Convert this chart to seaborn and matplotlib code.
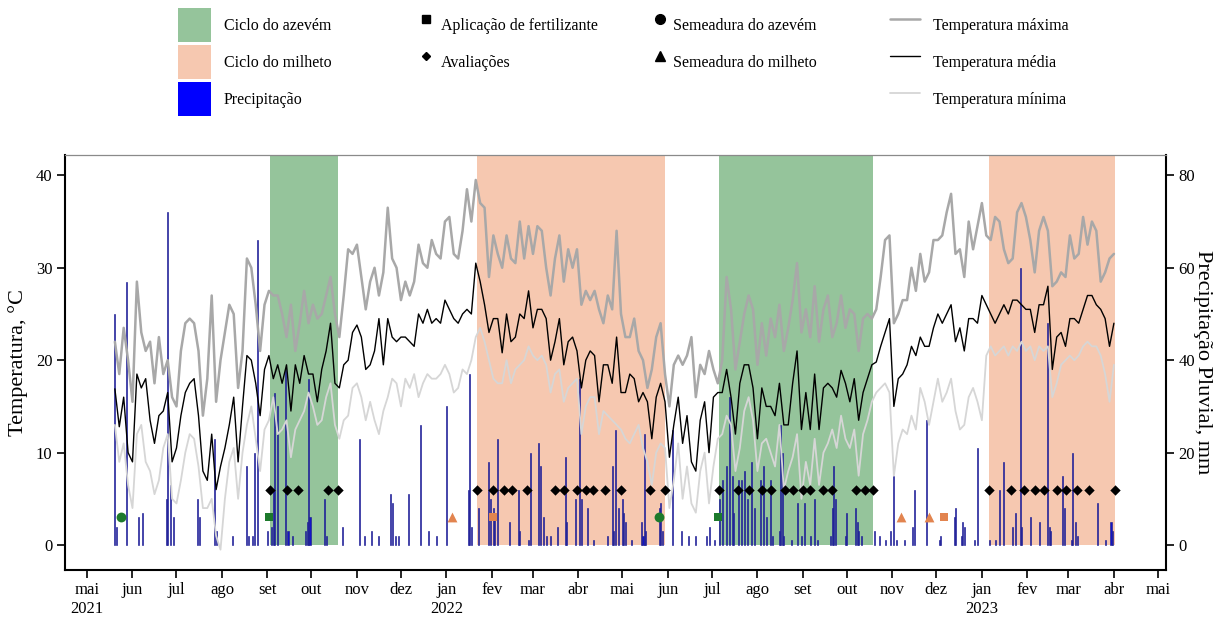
import pandas as pd
import matplotlib
matplotlib.use("Agg")
import matplotlib.pyplot as plt
from matplotlib.patches import Patch
from matplotlib.lines import Line2D
import seaborn as sns

sns.set_theme(style="ticks")
plt.rcParams["font.family"] = ["Liberation Serif", "DejaVu Serif"]
plt.rcParams["text.color"] = "black"
plt.rcParams["axes.labelcolor"] = "black"
plt.rcParams["xtick.color"] = "black"
plt.rcParams["ytick.color"] = "black"

# ---- temperature series (one reading every 3 days) ----
datas = pd.date_range("2021-05-20", "2023-04-01", freq="3D")

t_max = [
    22.0, 18.5, 23.5, 20.0, 15.5, 28.5, 23.0, 21.0, 22.0, 17.5, 22.5, 18.5, 20.0, 16.0, 15.0, 21.0, 24.0, 24.5, 24.0, 21.0, 14.0,
    18.0, 27.0, 15.5, 20.0, 23.0, 26.0, 25.0, 17.0, 21.0, 31.0, 30.0, 26.0, 21.0, 26.0, 27.5, 27.0, 27.0, 25.0, 22.5, 26.0, 21.0, 24.0, 27.5, 24.0, 26.0, 24.5, 25.0, 27.0, 29.0, 25.0, 22.5, 27.0,
    32.0, 31.5, 32.5, 29.0, 25.5, 28.5, 30.0, 27.0, 29.5, 36.5, 31.0, 30.0, 26.5, 28.5, 27.0, 28.5, 32.5, 30.5, 30.0, 33.0, 31.5, 31.0, 35.0, 35.5, 31.5, 31.0, 34.0, 38.5, 35.0, 39.5, 37.0, 36.5,
    29.0, 33.5, 31.5, 30.0, 33.5, 31.0, 30.5, 35.0, 31.0, 34.5, 31.5, 34.5, 34.0, 30.0, 27.0, 31.0, 33.5, 28.5, 32.0, 30.0, 32.0, 26.0, 27.5, 26.5, 27.5, 25.5, 24.0, 27.0, 25.5, 34.0, 25.0,
    22.5, 22.5, 24.5, 21.0, 20.0, 17.0, 19.0, 22.5, 24.0, 18.5, 15.0, 19.5, 20.5, 19.5, 20.5, 22.5, 16.0, 19.5, 18.5, 21.0, 19.0, 17.5, 20.0, 29.0, 25.5, 19.0, 22.0, 25.0, 27.0, 25.5, 19.5, 24.0,
    20.5, 24.5, 22.5, 26.0, 21.0, 23.5, 26.5, 30.5, 23.0, 25.5, 22.5, 28.0, 22.0, 25.5, 27.0, 22.5, 24.0, 27.0, 23.5, 25.5, 25.0, 21.0, 24.5, 25.0, 24.5, 25.5, 29.0, 33.0, 33.5, 24.0, 25.0, 26.5,
    26.5, 30.0, 27.5, 31.5, 28.5, 29.5, 33.0, 33.0, 33.5, 36.0, 38.0, 31.5, 32.0, 29.0, 35.0, 32.0, 34.5, 37.0, 33.5, 33.0, 35.5, 35.0, 32.0, 30.5, 31.0, 36.0, 37.0, 35.5, 33.0, 29.5, 34.0, 35.5,
    34.0, 28.0, 28.5, 29.5, 29.0, 33.5, 31.0, 31.5, 35.5, 32.5, 35.0, 34.0, 28.5, 29.5, 31.0, 31.5,
]

t_med = [
    16.9, 12.8, 16.0, 10.0, 9.0, 18.5, 17.0, 18.0, 13.5, 11.0, 14.0, 14.5, 16.5, 9.0, 10.5, 14.0, 16.5, 17.5, 18.0, 14.0, 8.0,
    7.0, 12.0, 6.0, 8.5, 10.5, 13.0, 16.0, 9.0, 15.0, 20.5, 20.0, 17.5, 14.0, 19.0, 20.5, 18.0, 19.5, 17.5, 19.5, 14.5, 19.5, 17.5, 20.5, 18.5, 18.5, 15.5, 19.0, 21.0, 24.0, 17.5, 17.0, 19.5,
    20.0, 23.0, 23.8, 22.5, 19.0, 19.5, 21.0, 24.5, 19.5, 24.5, 22.5, 22.0, 22.5, 22.5, 22.0, 21.5, 25.0, 24.0, 25.5, 24.0, 24.5, 24.0, 26.5, 25.5, 24.5, 24.0, 25.0, 25.5, 25.0, 30.5, 28.5, 26.0,
    23.0, 24.5, 24.5, 20.8, 25.0, 22.0, 22.5, 25.0, 24.5, 27.5, 23.5, 25.5, 25.5, 24.5, 20.0, 22.0, 24.5, 19.5, 22.0, 22.5, 21.0, 17.0, 20.0, 21.0, 20.5, 15.5, 19.5, 19.5, 17.5, 22.5, 16.5,
    16.5, 18.5, 18.0, 15.5, 16.5, 15.5, 11.5, 16.0, 17.5, 15.5, 9.5, 13.0, 16.0, 11.0, 14.0, 9.0, 8.0, 13.5, 15.5, 10.0, 16.0, 16.5, 16.5, 19.0, 16.0, 12.0, 17.5, 19.5, 19.5, 17.0, 11.5, 17.0,
    15.0, 15.0, 14.0, 17.5, 13.0, 13.0, 17.5, 21.0, 12.5, 16.5, 12.5, 18.5, 12.5, 17.0, 17.5, 17.0, 16.0, 18.9, 17.5, 15.5, 18.0, 13.5, 16.5, 18.0, 19.5, 19.8, 21.5, 23.0, 24.5, 15.0, 18.0, 18.5,
    19.5, 21.5, 20.5, 22.5, 21.5, 21.5, 23.5, 25.0, 24.0, 25.0, 26.0, 22.0, 23.5, 21.0, 24.5, 24.5, 24.0, 27.0, 26.0, 25.0, 24.0, 25.0, 26.0, 25.0, 26.5, 26.5, 26.0, 25.5, 25.5, 23.0, 26.0, 26.0,
    28.0, 19.0, 22.5, 23.0, 21.5, 24.5, 24.5, 24.0, 25.5, 27.0, 27.0, 26.0, 25.5, 24.5, 21.5, 24.0,
]

t_min = [
    13.0, 9.0, 11.0, 6.5, 4.0, 12.0, 13.0, 9.0, 8.0, 5.5, 7.0, 10.5, 12.0, 5.0, 4.5, 7.0, 10.0, 12.0, 11.5, 8.5, 4.0,
    4.0, 5.0, 1.0, -0.5, 5.0, 9.0, 10.5, 5.0, 10.0, 13.0, 15.0, 11.5, 8.0, 12.5, 13.5, 16.0, 12.0, 12.5, 13.5, 9.5, 12.5, 13.5, 14.5, 16.5, 15.0, 13.0, 13.5, 16.0, 17.5, 13.0, 11.5, 13.5,
    14.0, 17.0, 17.5, 16.0, 13.5, 15.5, 13.5, 12.0, 14.5, 16.0, 18.0, 17.5, 15.0, 18.0, 17.0, 18.5, 16.0, 17.5, 18.5, 18.0, 18.0, 18.5, 19.5, 18.5, 16.5, 17.0, 19.0, 18.5, 20.0, 22.5, 23.5, 22.0,
    20.0, 18.0, 17.5, 17.5, 20.0, 17.5, 19.0, 19.5, 20.0, 21.5, 20.5, 20.0, 20.5, 19.5, 16.5, 18.5, 19.0, 15.5, 17.0, 17.5, 18.0, 12.0, 15.0, 16.0, 16.0, 12.0, 14.5, 14.0, 13.5, 13.0, 12.5,
    11.5, 11.0, 12.0, 13.0, 10.5, 9.0, 6.5, 10.0, 11.0, 10.5, 4.0, 7.0, 11.0, 5.0, 8.5, 4.5, 3.5, 8.0, 10.0, 4.5, 8.5, 11.5, 12.0, 14.0, 13.0, 8.0, 10.5, 14.5, 16.0, 13.5, 8.0, 11.0,
    11.5, 10.0, 8.5, 13.0, 6.0, 8.0, 9.5, 12.0, 5.0, 9.0, 6.5, 11.5, 6.5, 10.0, 11.0, 12.5, 10.5, 14.0, 11.5, 10.5, 12.5, 7.5, 12.0, 13.5, 15.5, 16.5, 17.0, 17.5, 16.5, 7.5, 11.0, 12.5,
    12.0, 14.0, 12.5, 17.0, 15.5, 13.0, 15.5, 18.0, 15.5, 16.5, 18.0, 14.5, 12.5, 13.0, 16.0, 17.0, 15.5, 13.5, 20.5, 21.5, 20.5, 21.0, 21.5, 20.5, 21.5, 21.0, 22.0, 21.0, 21.5, 20.0, 21.5, 21.0,
    21.5, 16.0, 17.5, 19.5, 20.0, 20.5, 20.0, 20.5, 21.5, 22.0, 21.5, 21.5, 20.5, 18.5, 15.5, 19.5,
]

# ---- daily rainfall (mm), rainy days only ----
chuva_datas = [
    "2021-05-20", "2021-05-21", "2021-05-28", "2021-06-05", "2021-06-08", "2021-06-24", "2021-06-25", "2021-06-27",
    "2021-06-29", "2021-07-15", "2021-07-17", "2021-07-27", "2021-07-28", "2021-08-08", "2021-08-18", "2021-08-19",
    "2021-08-22", "2021-08-23", "2021-08-25", "2021-09-01", "2021-09-04", "2021-09-05", "2021-09-06", "2021-09-08",
    "2021-09-13", "2021-09-15", "2021-09-18", "2021-09-27", "2021-09-28", "2021-09-29", "2021-09-30", "2021-10-10",
    "2021-10-11", "2021-10-22", "2021-11-03", "2021-11-06", "2021-11-11", "2021-11-16", "2021-11-24", "2021-11-25",
    "2021-11-27", "2021-11-29", "2021-12-06", "2021-12-14", "2021-12-20", "2021-12-25", "2022-01-01", "2022-01-16",
    "2022-01-17", "2022-01-18", "2022-01-23", "2022-01-30", "2022-01-31", "2022-02-02", "2022-02-03", "2022-02-05",
    "2022-02-13", "2022-02-19", "2022-02-20", "2022-02-26", "2022-02-27", "2022-03-05", "2022-03-06", "2022-03-08",
    "2022-03-10", "2022-03-13", "2022-03-18", "2022-03-23", "2022-03-24", "2022-03-30", "2022-04-02", "2022-04-03",
    "2022-04-07", "2022-04-11", "2022-04-21", "2022-04-24", "2022-04-25", "2022-04-26", "2022-04-28", "2022-05-01",
    "2022-05-02", "2022-05-03", "2022-05-07", "2022-05-14", "2022-05-15", "2022-05-16", "2022-05-17", "2022-05-26",
    "2022-05-27", "2022-05-28", "2022-06-04", "2022-06-10", "2022-06-15", "2022-06-20", "2022-06-27", "2022-06-29",
    "2022-07-03", "2022-07-06", "2022-07-08", "2022-07-11", "2022-07-13", "2022-07-15", "2022-07-16", "2022-07-19",
    "2022-07-21", "2022-07-23", "2022-07-25", "2022-07-28", "2022-07-30", "2022-08-03", "2022-08-05", "2022-08-07",
    "2022-08-10", "2022-08-11", "2022-08-16", "2022-08-17", "2022-08-18", "2022-08-19", "2022-08-24", "2022-08-28",
    "2022-08-31", "2022-09-02", "2022-09-06", "2022-09-09", "2022-09-11", "2022-09-20", "2022-09-21", "2022-09-22",
    "2022-09-23", "2022-09-30", "2022-10-01", "2022-10-07", "2022-10-08", "2022-10-09", "2022-10-11", "2022-10-20",
    "2022-10-23", "2022-10-27", "2022-10-31", "2022-11-02", "2022-11-04", "2022-11-09", "2022-11-15", "2022-11-16",
    "2022-11-24", "2022-12-03", "2022-12-04", "2022-12-13", "2022-12-14", "2022-12-18", "2022-12-19", "2022-12-20",
    "2022-12-27", "2022-12-29", "2023-01-06", "2023-01-10", "2023-01-13", "2023-01-16", "2023-01-22", "2023-01-24",
    "2023-01-27", "2023-01-28", "2023-02-03", "2023-02-09", "2023-02-15", "2023-02-16", "2023-02-17", "2023-02-25",
    "2023-02-26", "2023-03-03", "2023-03-04", "2023-03-06", "2023-03-07", "2023-03-21", "2023-03-26", "2023-03-30",
    "2023-03-31",
]
chuva_mm = [
    50, 4, 57, 6, 7, 10, 72, 13,
    6, 10, 6, 23, 3, 2, 17, 2,
    2, 20, 66, 3, 4, 12, 33, 30,
    38, 3, 2, 3, 5, 36, 6, 10,
    2, 4, 23, 2, 3, 2, 11, 9,
    2, 2, 11, 26, 3, 2, 30, 12,
    37, 4, 8, 18, 10, 8, 7, 23,
    5, 12, 3, 1, 20, 22, 17, 6,
    2, 2, 4, 19, 5, 10, 36, 10,
    8, 1, 2, 17, 3, 25, 8, 10,
    7, 5, 1, 5, 2, 24, 3, 8,
    9, 3, 25, 3, 2, 2, 2, 4,
    1, 10, 14, 17, 32, 15, 7, 14,
    14, 16, 10, 18, 8, 14, 17, 6,
    14, 2, 3, 26, 20, 2, 1, 9,
    2, 9, 2, 10, 1, 2, 8, 17,
    10, 2, 7, 8, 5, 3, 2, 3,
    2, 1, 3, 15, 1, 1, 4, 12,
    27, 1, 2, 6, 8, 2, 5, 4,
    1, 21, 1, 1, 12, 18, 4, 7,
    60, 4, 6, 5, 48, 4, 3, 15,
    8, 1, 20, 5, 2, 9, 1, 5,
    3,
]

# ---- crop cycles ----
azevem_inicio = ["2021-09-03", "2022-07-06"]
azevem_fim = ["2021-10-19", "2022-10-19"]
milheto_inicio = ["2022-01-22", "2023-01-06"]
milheto_fim = ["2022-05-30", "2023-04-02"]

# ---- field events ----
avaliacoes = [
    "2021-09-03", "2021-09-14", "2021-09-22", "2021-10-12", "2021-10-19",
    "2022-01-22", "2022-02-02", "2022-02-09", "2022-02-15", "2022-02-25", "2022-03-16", "2022-03-22",
    "2022-03-31", "2022-04-06", "2022-04-11", "2022-04-19", "2022-04-30", "2022-05-20", "2022-05-30",
    "2022-07-06", "2022-07-19", "2022-07-26", "2022-08-04", "2022-08-10", "2022-08-20", "2022-08-25",
    "2022-09-01", "2022-09-06", "2022-09-15", "2022-09-21", "2022-10-07", "2022-10-13", "2022-10-19",
    "2023-01-06", "2023-01-21", "2023-01-30", "2023-02-06", "2023-02-12", "2023-02-21", "2023-02-27",
    "2023-03-07", "2023-03-15", "2023-04-02",
]
fert_azevem = ["2021-09-02", "2022-07-05"]
fert_milheto = ["2022-02-02", "2022-12-06"]
semeadura_azevem = ["2021-05-24", "2022-05-26"]
semeadura_milheto = ["2022-01-05", "2022-11-07", "2022-11-26"]

meses = pd.date_range("2021-05-01", "2023-05-01", freq="MS")
rotulos_meses = ["mai\n2021", "jun", "jul", "ago", "set", "out", "nov", "dez",
                 "jan\n2022", "fev", "mar", "abr", "mai", "jun", "jul", "ago", "set", "out", "nov", "dez",
                 "jan\n2023", "fev", "mar", "abr", "mai"]

# ---- styles ----
VERDE = "#95c49b"
SALMAO = "#f6c8b0"
AZUL = "#0000ff"
COR_BARRA = "#1414c8"
COR_MAX = "#a8a8a8"
COR_MED = "#000000"
COR_MIN = "#d6d6d6"
VERDE_PT = "#1d7a2c"
LARANJA_PT = "#e2844f"
Y_AVAL = 6.0
Y_EVENTO = 3.0
T_LIM = (-2.7, 42.2)

W, H = 1227, 619
fig = plt.figure(figsize=(W / 100, H / 100), dpi=100)
ax_p = fig.add_axes([65 / W, 1 - 570 / H, 1101 / W, 415 / H])
ax_t = ax_p.twinx()

ax_t.set_ylim(*T_LIM)
ax_p.set_ylim(2 * T_LIM[0], 2 * T_LIM[1])
x0, x1 = pd.Timestamp("2021-04-16"), pd.Timestamp("2023-05-06 12:00")

# crop-cycle shading (from 0 up to the top of the panel)
top = ax_p.get_ylim()[1]
for a, b in zip(azevem_inicio, azevem_fim):
    ax_p.fill_between([pd.Timestamp(a), pd.Timestamp(b)], 0, top, color=VERDE, lw=0, zorder=0)
for a, b in zip(milheto_inicio, milheto_fim):
    ax_p.fill_between([pd.Timestamp(a), pd.Timestamp(b)], 0, top, color=SALMAO, lw=0, zorder=0)

# rainfall bars
ax_p.bar(pd.to_datetime(chuva_datas), chuva_mm, width=0.7, color=COR_BARRA,
         edgecolor="#22228a", linewidth=0.45, zorder=2)

# temperature lines
n = len(datas)
df_t = pd.DataFrame({
    "data": list(datas) * 3,
    "temp": t_max + t_min + t_med,
    "serie": ["max"] * n + ["min"] * n + ["med"] * n,
})
sns.lineplot(data=df_t, x="data", y="temp", hue="serie", size="serie",
             hue_order=["max", "min", "med"], size_order=["max", "min", "med"],
             palette={"max": COR_MAX, "min": COR_MIN, "med": COR_MED},
             sizes={"max": 1.8, "min": 1.3, "med": 1.0},
             estimator=None, legend=False, ax=ax_t)

# event markers
sns.scatterplot(x=pd.to_datetime(avaliacoes), y=[Y_AVAL] * len(avaliacoes), marker="D",
                color="black", s=28, linewidth=0, ax=ax_t, zorder=5)
sns.scatterplot(x=pd.to_datetime(fert_azevem), y=[Y_EVENTO] * len(fert_azevem), marker="s",
                color=VERDE_PT, s=38, linewidth=0, ax=ax_t, zorder=5)
sns.scatterplot(x=pd.to_datetime(fert_milheto), y=[Y_EVENTO] * len(fert_milheto), marker="s",
                color=LARANJA_PT, s=38, linewidth=0, ax=ax_t, zorder=5)
sns.scatterplot(x=pd.to_datetime(semeadura_azevem), y=[Y_EVENTO] * len(semeadura_azevem), marker="o",
                color=VERDE_PT, s=50, linewidth=0, ax=ax_t, zorder=5)
sns.scatterplot(x=pd.to_datetime(semeadura_milheto), y=[Y_EVENTO] * len(semeadura_milheto), marker="^",
                color=LARANJA_PT, s=50, linewidth=0, ax=ax_t, zorder=5)

# axes, ticks and labels
ax_p.set_xlim(x0, x1)
ax_p.set_xticks(meses)
ax_p.set_xticklabels(rotulos_meses)
ax_p.set_xlabel("")
ax_t.set_xlabel("")

ax_t.yaxis.tick_left()
ax_t.yaxis.set_label_position("left")
ax_p.yaxis.tick_right()
ax_p.yaxis.set_label_position("right")
ax_t.set_yticks([0, 10, 20, 30, 40])
ax_p.set_yticks([0, 20, 40, 60, 80])

ax_t.set_ylabel("Temperatura, °C", fontsize=16, labelpad=6)
ax_p.set_ylabel("Precipitação Pluvial, mm", fontsize=16, rotation=270, labelpad=12)

for a in (ax_p, ax_t):
    a.tick_params(direction="out", length=6, width=1.2, labelsize=12, pad=3)
    a.grid(False)
for s in ax_p.spines.values():
    s.set_visible(False)
for side in ("left", "bottom", "right"):
    ax_t.spines[side].set_visible(True)
    ax_t.spines[side].set_color("black")
    ax_t.spines[side].set_linewidth(1.5)
ax_t.spines["top"].set_visible(True)
ax_t.spines["top"].set_color("#8a8a8a")
ax_t.spines["top"].set_linewidth(0.9)

# legend (four columns)
fs = 11.5
common = dict(loc="upper left", frameon=False, fontsize=fs, borderpad=0, borderaxespad=0,
              handleheight=2.89, labelspacing=0.19)
fig.legend(handles=[Patch(facecolor=VERDE, edgecolor="none"), Patch(facecolor=SALMAO, edgecolor="none"),
                    Patch(facecolor=AZUL, edgecolor="none")],
           labels=["Ciclo do azevém", "Ciclo do milheto", "Precipitação"],
           bbox_to_anchor=(178 / W, 1 - 8 / H), handlelength=2.05, handletextpad=0.8, **common)
fig.legend(handles=[Line2D([], [], ls="", marker="s", color="black", ms=6),
                    Line2D([], [], ls="", marker="D", color="black", ms=4.5)],
           labels=["Aplicação de fertilizante", "Avaliações"],
           bbox_to_anchor=(418 / W, 1 - 8 / H), handlelength=1.0, handletextpad=0.45, **common)
fig.legend(handles=[Line2D([], [], ls="", marker="o", color="black", ms=7),
                    Line2D([], [], ls="", marker="^", color="black", ms=7)],
           labels=["Semeadura do azevém", "Semeadura do milheto"],
           bbox_to_anchor=(652 / W, 1 - 8 / H), handlelength=1.0, handletextpad=0.3, **common)
fig.legend(handles=[Line2D([], [], color=COR_MAX, lw=1.8), Line2D([], [], color=COR_MED, lw=1.0),
                    Line2D([], [], color=COR_MIN, lw=1.3)],
           labels=["Temperatura máxima", "Temperatura média", "Temperatura mínima"],
           bbox_to_anchor=(890 / W, 1 - 8 / H), handlelength=1.9, handletextpad=0.8, **common)

fig.savefig("out.png", dpi=100, facecolor="white")
